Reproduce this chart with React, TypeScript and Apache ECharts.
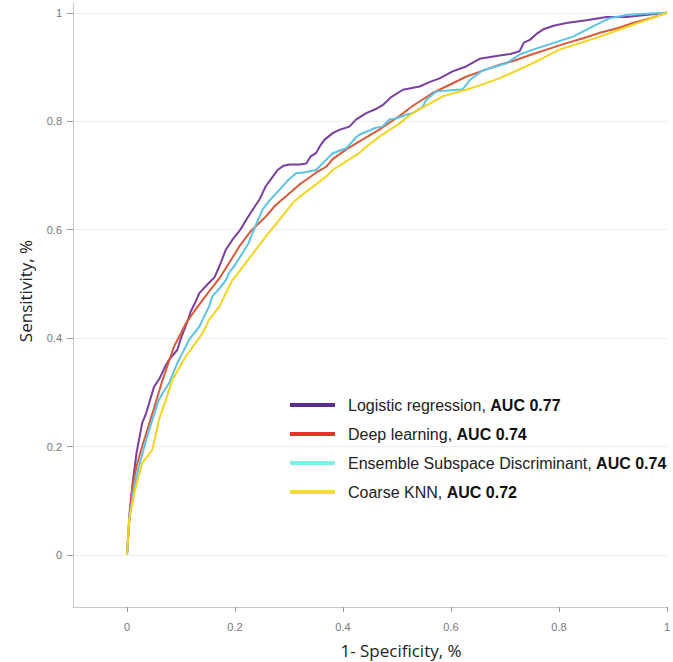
import React, { useEffect, useRef } from 'react';
import * as echarts from 'echarts';

const seriesNames = ['Logistic regression', 'Deep learning', 'Ensemble Subspace Discriminant', 'Coarse KNN'];
const aucValues = ['0.77', '0.74', '0.74', '0.72'];
const lineColors = ['#7a3fa0', '#d95a3a', '#5cc2e6', '#f5d41e'];
const legendColors = ['#5b2d90', '#e4342a', '#7ef0e8', '#f3dc3a'];
const xTicks = [0, 0.2, 0.4, 0.6, 0.8, 1];
const yTicks = [0, 0.2, 0.4, 0.6, 0.8, 1];

const logisticRegression: [number, number][] = [
  [0, 0], [0.005, 0.08], [0.011, 0.138], [0.018, 0.19], [0.028, 0.243], [0.035, 0.26], [0.05, 0.31],
  [0.06, 0.325], [0.072, 0.35], [0.078, 0.36], [0.093, 0.378], [0.1, 0.4], [0.111, 0.428], [0.118, 0.449],
  [0.127, 0.467], [0.134, 0.483], [0.152, 0.502], [0.162, 0.512], [0.171, 0.532], [0.183, 0.563],
  [0.195, 0.581], [0.21, 0.6], [0.222, 0.62], [0.233, 0.637], [0.245, 0.655], [0.257, 0.68], [0.268, 0.695],
  [0.279, 0.71], [0.29, 0.718], [0.301, 0.72], [0.32, 0.72], [0.332, 0.722], [0.34, 0.735], [0.35, 0.741],
  [0.358, 0.755], [0.366, 0.766], [0.381, 0.778], [0.393, 0.784], [0.412, 0.79], [0.424, 0.803],
  [0.443, 0.815], [0.46, 0.822], [0.474, 0.83], [0.49, 0.845], [0.511, 0.858], [0.542, 0.864],
  [0.56, 0.872], [0.579, 0.879], [0.603, 0.892], [0.628, 0.901], [0.653, 0.915], [0.69, 0.921],
  [0.71, 0.924], [0.727, 0.929], [0.735, 0.945], [0.746, 0.95], [0.76, 0.962], [0.77, 0.969],
  [0.79, 0.976], [0.814, 0.981], [0.851, 0.986], [0.888, 0.992], [0.925, 0.992], [0.96, 0.996], [1, 1],
];

const deepLearning: [number, number][] = [
  [0, 0], [0.004, 0.06], [0.01, 0.126], [0.018, 0.165], [0.028, 0.2], [0.047, 0.261], [0.066, 0.323],
  [0.087, 0.384], [0.109, 0.427], [0.125, 0.45], [0.14, 0.47], [0.155, 0.49], [0.171, 0.51], [0.19, 0.54],
  [0.208, 0.569], [0.23, 0.598], [0.257, 0.624], [0.275, 0.645], [0.294, 0.661], [0.319, 0.683],
  [0.332, 0.692], [0.35, 0.705], [0.369, 0.716], [0.381, 0.73], [0.406, 0.748], [0.443, 0.77],
  [0.468, 0.785], [0.505, 0.81], [0.529, 0.828], [0.566, 0.852], [0.591, 0.864], [0.628, 0.882],
  [0.653, 0.891], [0.69, 0.904], [0.715, 0.911], [0.752, 0.924], [0.78, 0.933], [0.814, 0.944],
  [0.845, 0.953], [0.876, 0.963], [0.91, 0.972], [0.937, 0.981], [0.97, 0.99], [1, 1],
];

const ensembleSubspace: [number, number][] = [
  [0, 0], [0.004, 0.065], [0.012, 0.12], [0.022, 0.163], [0.041, 0.231], [0.059, 0.286], [0.07, 0.305],
  [0.078, 0.317], [0.093, 0.354], [0.104, 0.375], [0.115, 0.397], [0.134, 0.421], [0.14, 0.434],
  [0.152, 0.458], [0.158, 0.477], [0.17, 0.49], [0.183, 0.507], [0.189, 0.52], [0.2, 0.535],
  [0.214, 0.557], [0.225, 0.575], [0.235, 0.6], [0.251, 0.637], [0.265, 0.655], [0.282, 0.673],
  [0.297, 0.69], [0.313, 0.704], [0.33, 0.706], [0.35, 0.71], [0.365, 0.725], [0.381, 0.741],
  [0.406, 0.75], [0.424, 0.77], [0.43, 0.775], [0.461, 0.788], [0.473, 0.79], [0.486, 0.803],
  [0.498, 0.805], [0.517, 0.812], [0.53, 0.815], [0.548, 0.827], [0.554, 0.839], [0.573, 0.855],
  [0.6, 0.857], [0.622, 0.859], [0.635, 0.876], [0.659, 0.894], [0.68, 0.9], [0.703, 0.907],
  [0.727, 0.923], [0.752, 0.932], [0.789, 0.944], [0.826, 0.956], [0.863, 0.975], [0.894, 0.99],
  [0.925, 0.996], [0.96, 0.998], [1, 1],
];

const coarseKnn: [number, number][] = [
  [0, 0], [0.004, 0.065], [0.015, 0.12], [0.028, 0.169], [0.047, 0.194], [0.053, 0.22], [0.059, 0.249],
  [0.072, 0.286], [0.084, 0.323], [0.109, 0.366], [0.14, 0.409], [0.152, 0.434], [0.171, 0.458],
  [0.195, 0.507], [0.202, 0.515], [0.257, 0.587], [0.307, 0.649], [0.319, 0.66], [0.369, 0.698],
  [0.381, 0.71], [0.43, 0.741], [0.443, 0.753], [0.468, 0.772], [0.505, 0.796], [0.529, 0.815],
  [0.585, 0.846], [0.628, 0.858], [0.653, 0.866], [0.69, 0.879], [0.752, 0.907], [0.801, 0.932],
  [0.876, 0.956], [0.937, 0.978], [1, 1],
];

const seriesData = [logisticRegression, deepLearning, ensembleSubspace, coarseKnn];

export default function App() {
  const ref = useRef<HTMLDivElement>(null);
  useEffect(() => {
    if (!ref.current) return;
    const chart = echarts.init(ref.current, undefined, { renderer: 'svg' });
    const tickFont = { color: '#777', fontSize: 11, fontFamily: 'Liberation Sans, Arial, sans-serif' };
    chart.setOption({
      animation: false,
      backgroundColor: '#fff',
      grid: { left: 73, right: 6, top: 3, bottom: 55, containLabel: false },
      xAxis: {
        type: 'value',
        min: -0.1,
        max: 1,
        axisLine: { show: true, onZero: false, lineStyle: { color: '#c8c8c8', width: 1 } },
        axisTick: { show: true, customValues: xTicks, length: 5, lineStyle: { color: '#999' } },
        axisLabel: { customValues: xTicks, margin: 14, ...tickFont },
        splitLine: { show: false },
      },
      yAxis: {
        type: 'value',
        min: -0.096,
        max: 1.018,
        axisLine: { show: true, onZero: false, lineStyle: { color: '#c8c8c8', width: 1 } },
        axisTick: { show: true, customValues: yTicks, length: 6, lineStyle: { color: '#999' } },
        axisLabel: { customValues: yTicks, margin: 11, ...tickFont },
        splitLine: { show: true, lineStyle: { color: '#ececec', width: 1 } },
      },
      legend: {
        orient: 'vertical',
        left: 290,
        top: 396,
        padding: 0,
        itemWidth: 45,
        itemHeight: 4,
        itemGap: 11,
        data: seriesNames.map((n, i) => ({ name: n, icon: 'rect', itemStyle: { color: legendColors[i] } })),
        formatter: (name: string) => {
          const i = seriesNames.indexOf(name);
          return `${name}, {b|AUC ${aucValues[i]}}`;
        },
        textStyle: {
          color: '#222',
          fontSize: 16,
          lineHeight: 18,
          padding: [0, 0, 0, 8],
          fontFamily: 'Liberation Sans, Arial, sans-serif',
          rich: {
            b: { fontWeight: 'bold', color: '#111', fontSize: 16, lineHeight: 18, fontFamily: 'Liberation Sans, Arial, sans-serif' },
          },
        },
      },
      graphic: [
        {
          type: 'text',
          x: 25,
          y: 291,
          rotation: Math.PI / 2,
          style: {
            text: 'Sensitivity, %',
            align: 'center',
            verticalAlign: 'middle',
            fill: '#222',
            font: '17px "Open Sans", sans-serif',
          },
        },
        {
          type: 'text',
          x: 401,
          y: 650,
          style: {
            text: '1- Specificity, %',
            align: 'center',
            verticalAlign: 'middle',
            fill: '#222',
            font: '17px "Open Sans", sans-serif',
          },
        },
      ],
      series: seriesNames.map((n, i) => ({
        name: n,
        type: 'line',
        data: seriesData[i],
        showSymbol: false,
        symbol: 'none',
        smooth: false,
        lineStyle: { color: lineColors[i], width: 2 },
        itemStyle: { color: legendColors[i] },
      })),
    });
    return () => chart.dispose();
  }, []);
  return <div ref={ref} style={{ position: 'fixed', left: 0, top: 0, width: 673, height: 662 }} />;
}
